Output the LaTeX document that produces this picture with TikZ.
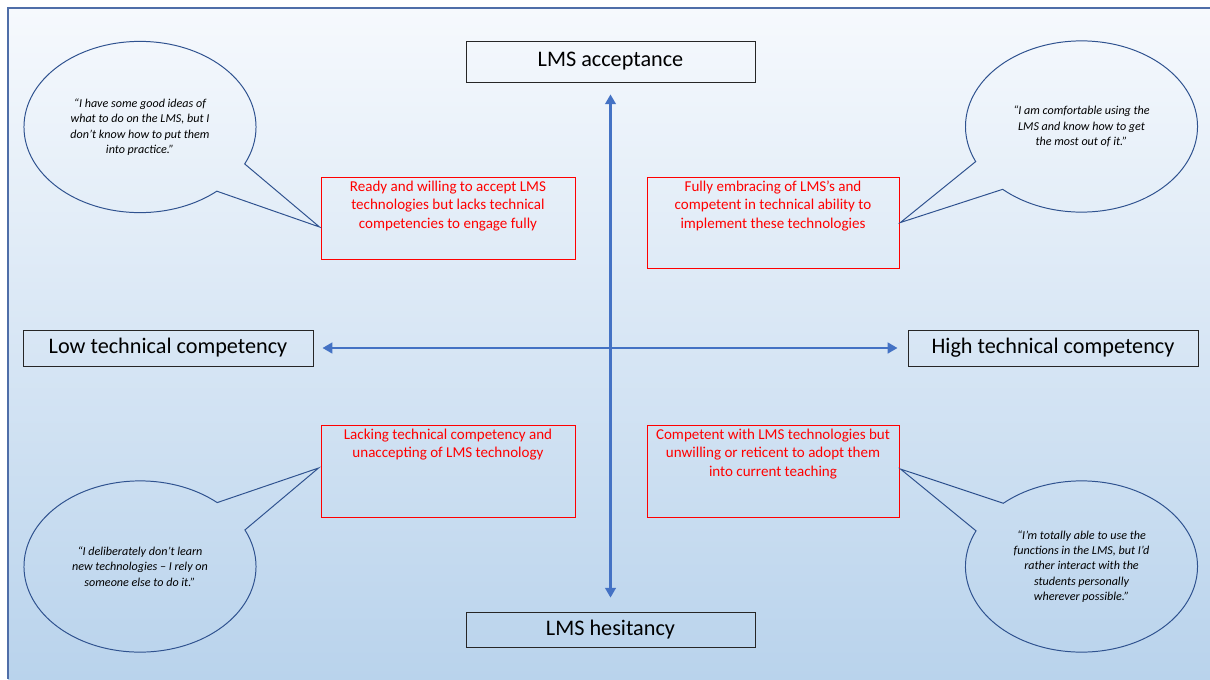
\documentclass[tikz,border=0pt]{standalone}
\usepackage{fontspec}
\setmainfont{Carlito}
\usetikzlibrary{arrows.meta,shapes.callouts,calc}
\definecolor{axisblue}{RGB}{68,114,196}
\definecolor{bubbleblue}{RGB}{47,82,143}
\definecolor{frameblue}{RGB}{79,110,168}
\definecolor{bgtop}{RGB}{246,249,253}
\definecolor{bgbottom}{RGB}{185,211,236}

\begin{document}
\begin{tikzpicture}
[x=0.025cm,y=-0.025cm,%
  axisarrow/.style={line width=2.1pt,axisblue,{Triangle[width=7.5pt,length=7pt]}-{Triangle[width=7.5pt,length=7pt]}},%
  axislabel/.style={draw=black!85,line width=0.6pt,inner sep=0pt,font=\fontsize{15.8}{18}\selectfont},%
  quadrant/.style={draw=red,line width=0.6pt,text=red,inner xsep=0pt,inner ysep=0.1cm,font=\fontsize{10.7}{13}\selectfont},%
  saying/.style={ellipse callout,draw=bubbleblue,line width=0.7pt,callout pointer arc=23,%
    minimum width=5.8cm,minimum height=4.28cm,inner sep=0pt,align=center,%
    font=\fontsize{8.6}{10.85}\selectfont\itshape}]
\useasboundingbox (0,0) rectangle (1210,679);
\shade[top color=bgtop,bottom color=bgbottom] (8,8) rectangle (1210,679);
\draw[frameblue,line width=0.9pt] (1210,8) -- (8,8) -- (8,679);

% axis labels
\node[axislabel,minimum width=7.225cm,minimum height=1.025cm] (acc) at (610.5,61.5) {LMS acceptance};
\node[axislabel,minimum width=7.225cm,minimum height=0.875cm] (hes) at (610.5,629.5) {LMS hesitancy};
\node[axislabel,minimum width=7.25cm,minimum height=0.9cm] (low) at (168,348) {Low technical competency};
\node[axislabel,minimum width=7.25cm,minimum height=0.9cm] (high) at (1053,348) {High technical competency};

\draw[axisarrow,shorten <=8.5pt,shorten >=9.9pt] (acc) -- (hes);
\draw[axisarrow,shorten <=6.4pt,shorten >=7.1pt] (low) -- (high);

% quadrants
\node[quadrant] (tlbox) at (448,218) {\parbox[c][1.85cm][t]{6.35cm}{\centering
  Ready and willing to accept LMS\\technologies but lacks technical\\competencies to engage fully}};
\node[quadrant] (trbox) at (773,222.5) {\parbox[c][2.075cm][t]{6.3cm}{\centering
  Fully embracing of LMS’s and\\competent in technical ability to\\implement these technologies}};
\node[quadrant] (blbox) at (448,471) {\parbox[c][2.1cm][t]{6.35cm}{\centering
  Lacking technical competency and\\unaccepting of LMS technology}};
\node[quadrant] (brbox) at (773,471) {\parbox[c][2.1cm][t]{6.3cm}{\centering
  Competent with LMS technologies but\\unwilling or reticent to adopt them\\into current teaching}};

% quotes
\node[saying,callout absolute pointer={($(tlbox.west)+(-1,9)$)}] (tlquote) at (140,127)
  {“I have some good ideas of\\what to do on the LMS, but I\\don’t know how to put them\\into practice.”};
\node[saying,callout absolute pointer={($(trbox.east)+(1,0)$)}] (trquote) at (1081.5,126.5)
  {“I am comfortable using the\\LMS and know how to get\\the most out of it.”};
\node[saying,callout absolute pointer={($(blbox.west)+(-2,-3)$)}] (blquote) at (140,566.5)
  {“I deliberately don’t learn\\new technologies – I rely on\\someone else to do it.”};
\node[saying,callout absolute pointer={($(brbox.east)+(1,-2)$)}] (brquote) at (1081.5,566.5)
  {“I’m totally able to use the\\functions in the LMS, but I’d\\rather interact with the\\students personally\\wherever possible.”};
\end{tikzpicture}
\end{document}
